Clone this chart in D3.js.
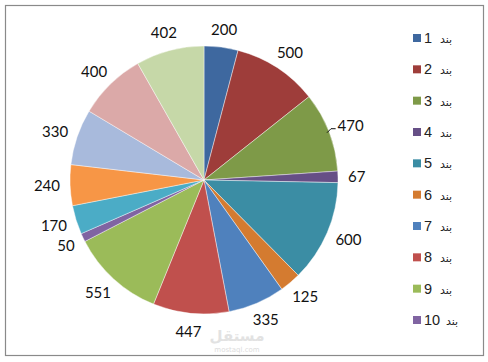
<!DOCTYPE html>
<html>
<head>
    <meta charset="utf-8">
    <title></title>
    <script src="https://d3js.org/d3.v7.min.js"></script>
    <style>
        body { margin: 0; background: #fff; }
    </style>
</head>
<body>

    <svg id="chart" width="488" height="362"></svg>

    <script>

    var words  = ["بند", "بند", "بند", "بند", "بند", "بند", "بند", "بند",
                  "بند", "بند", "بند", "بند", "بند", "بند", "بند"];
    var nums   = ["1", "2", "3", "4", "5", "6", "7", "8", "9", "10", "11", "12", "13", "14", "15"];
    var values = [200, 500, 470, 67, 600, 125, 335, 447, 551, 50, 170, 240, 330, 400, 402];
    var colors = ["#3e689f", "#9e3d3a", "#7e9a48", "#664f86", "#3b8da4", "#d47b30",
                  "#4f81bd", "#c0504d", "#9bbb59", "#8064a2", "#4bacc6", "#f79646",
                  "#a8badc", "#dba9a8", "#c6d8a8"];
    var legendShown = 10;   // only the first ten entries fit in the legend

    var svg = d3.select("#chart");

    // chart border
    svg.append("rect").attr("x", 5.5).attr("y", 5.5).attr("width", 478).attr("height", 350)
        .attr("fill", "#fff").attr("stroke", "#8a8a8a").attr("stroke-width", 1.2);

    var cx = 204, cy = 180, r = 134;

    var pie = d3.pie().sort(null).value(d => d);
    var arcs = pie(values);
    var arcMkr = d3.arc().innerRadius(0).outerRadius(r);

    var g = svg.append("g").attr("transform", "translate(" + cx + "," + cy + ")");

    g.selectAll("path").data(arcs).enter().append("path")
        .attr("d", arcMkr)
        .attr("fill", (d, i) => colors[i])
        .attr("stroke", "#fff").attr("stroke-width", 0.6).attr("stroke-opacity", 0.7);

    // data labels, outside end
    function labelPos(d) {
        var a = (d.startAngle + d.endAngle) / 2;
        var s = Math.sin(a), c = Math.cos(a);
        var hw = String(d.data).length * 4.4;
        return [(r + 10) * s + hw * s, -(r + 14) * c - 4 * c];
    }

    g.selectAll("text.lbl").data(arcs).enter().append("text")
        .attr("class", "lbl")
        .attr("x", d => labelPos(d)[0])
        .attr("y", d => labelPos(d)[1])
        .attr("dy", "0.36em")
        .attr("text-anchor", "middle")
        .attr("font-family", "Lato, 'Open Sans', sans-serif")
        .attr("font-size", 15)
        .attr("fill", "#111")
        .text(d => d.data);

    // small leader line for the third slice
    var a3 = (arcs[2].startAngle + arcs[2].endAngle) / 2;
    var p0 = [r * Math.sin(a3), -r * Math.cos(a3)];
    var p3 = labelPos(arcs[2]);
    var ldr = d3.line();
    g.append("path")
        .attr("d", ldr([[p0[0] - 2, p0[1] + 1], [p0[0] + 2, p0[1] - 3], [p3[0] - 15, p0[1] - 3]]))
        .attr("fill", "none").attr("stroke", "#111").attr("stroke-width", 1);

    // legend
    var ySc = d3.scaleLinear().domain([0, legendShown - 1]).range([38, 320]);
    var lg = svg.append("g").selectAll("g")
        .data(d3.range(legendShown)).enter().append("g")
        .attr("transform", i => "translate(0," + ySc(i) + ")");

    lg.append("rect").attr("x", 413).attr("y", -4).attr("width", 8).attr("height", 8)
        .attr("fill", i => colors[i]);

    lg.append("text")
        .attr("x", 424).attr("y", 5)
        .attr("font-family", "'Liberation Sans', Arial, sans-serif").attr("font-size", 14.5)
        .attr("fill", "#222")
        .text(i => nums[i]);

    lg.append("text")
        .attr("x", i => nums[i].length > 1 ? 446 : 440).attr("y", 5)
        .attr("font-family", "'DejaVu Sans', sans-serif").attr("font-size", 11)
        .attr("fill", "#222")
        .text(i => words[i]);

    // watermark
    svg.append("text").attr("x", 237).attr("y", 341).attr("text-anchor", "middle")
        .attr("font-family", "'DejaVu Sans', sans-serif").attr("font-size", 15).attr("font-weight", "bold")
        .attr("fill", "#e2e2e2").text("مستقل");
    svg.append("text").attr("x", 237).attr("y", 352).attr("text-anchor", "middle")
        .attr("font-family", "'DejaVu Sans', sans-serif").attr("font-size", 7)
        .attr("fill", "#dcdcdc").text("mostaql.com");

    </script>

</body></html>
